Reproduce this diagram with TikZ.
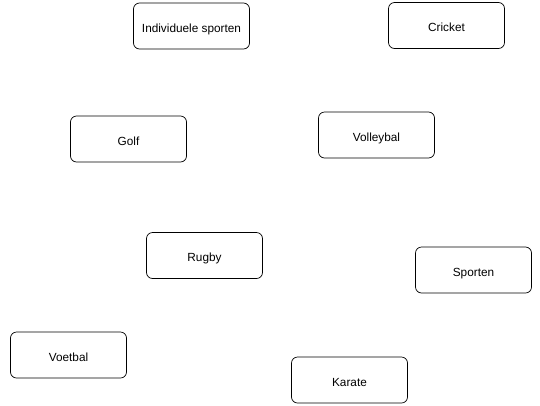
\documentclass[tikz,border=0pt]{standalone}
\usepackage{fontspec}
\setmainfont{Liberation Sans}
\tikzset{sportbox/.style={draw, rounded corners=6pt, minimum width=116pt, minimum height=46pt, text height=14pt, text depth=1.5pt, font=\fontsize{11.8}{13}\selectfont, line width=0.7pt}}
\begin{document}
\begin{tikzpicture}[x=1pt, y=-1pt]
\useasboundingbox (0, 0) rectangle (540, 405);
\node[sportbox](I) at (191.5, 26) {Individuele sporten};
\node[sportbox](C) at (446.5, 25.5) {Cricket};
\node[sportbox](G) at (128.5, 139) {Golf};
\node[sportbox](V) at (376.5, 135) {Volleybal};
\node[sportbox](R) at (204.5, 255.5) {Rugby};
\node[sportbox](S) at (473.5, 270) {Sporten};
\node[sportbox](F) at (68.5, 355) {Voetbal};
\node[sportbox](K) at (349.5, 380) {Karate};
\end{tikzpicture}
\end{document}
